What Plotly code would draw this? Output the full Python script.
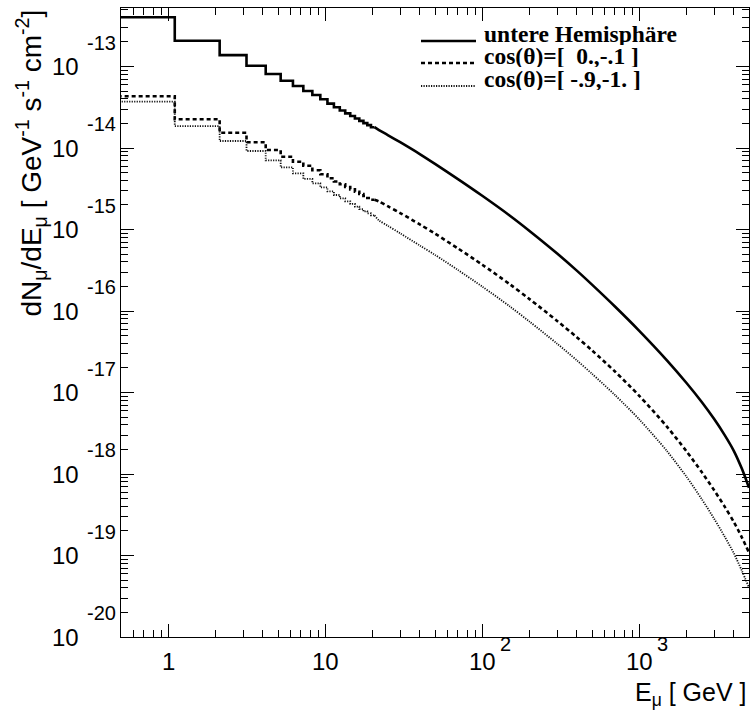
import plotly.graph_objects as go

# ---------------- data ----------------
bin_edges = [0.075, 1.1, 2.125, 3.15, 4.175, 5.2, 6.225, 7.25, 8.275, 9.3, 10.325,
             11.35, 12.375, 13.4, 14.425, 15.45, 16.475, 17.5, 18.525, 19.55, 20.575]

hemi_bins = [4.02e-13, 2.07e-13, 1.38e-13, 1.02e-13, 8.09e-14, 6.70e-14, 5.76e-14, 5.01e-14,
             4.47e-14, 3.96e-14, 3.50e-14, 3.16e-14, 2.89e-14, 2.66e-14, 2.47e-14, 2.30e-14,
             2.15e-14, 2.02e-14, 1.91e-14, 1.80e-14]
cos01_bins = [4.31e-14, 2.25e-14, 1.54e-14, 1.175e-14, 9.45e-15, 7.82e-15, 6.79e-15, 6.07e-15,
              5.33e-15, 4.76e-15, 4.25e-15, 3.88e-15, 3.59e-15, 3.32e-15, 3.11e-15, 2.91e-15,
              2.73e-15, 2.58e-15, 2.44e-15, 2.32e-15]
cos91_bins = [3.70e-14, 1.86e-14, 1.22e-14, 9.19e-15, 7.07e-15, 5.80e-15, 4.89e-15, 4.17e-15,
              3.69e-15, 3.28e-15, 2.93e-15, 2.65e-15, 2.41e-15, 2.22e-15, 2.06e-15, 1.91e-15,
              1.78e-15, 1.67e-15, 1.58e-15, 1.49e-15]

E_smooth = [22, 25, 30, 40, 50, 70, 100, 150, 200, 300, 400, 500, 700, 1000, 1500, 2000,
            2500, 3000, 3500, 4000, 4500, 5000]
hemi_smooth = [1.658e-14, 1.444e-14, 1.178e-14, 8.42e-15, 6.38e-15, 4.153e-15, 2.591e-15,
               1.477e-15, 9.61e-16, 5.076e-16, 3.131e-16, 2.108e-16, 1.136e-16, 5.716e-17,
               2.484e-17, 1.308e-17, 7.644e-18, 4.716e-18, 3.001e-18, 1.926e-18, 1.165e-18,
               6.77e-19]
cos01_smooth = [2.206e-15, 1.932e-15, 1.594e-15, 1.155e-15, 8.906e-16, 5.862e-16, 3.700e-16,
                2.126e-16, 1.400e-16, 7.558e-17, 4.77e-17, 3.286e-17, 1.810e-17, 9.11e-18,
                3.806e-18, 1.899e-18, 1.055e-18, 6.31e-19, 3.98e-19, 2.584e-19, 1.672e-19,
                1.085e-19]
cos91_smooth = [1.293e-15, 1.113e-15, 8.98e-16, 6.363e-16, 4.879e-16, 3.186e-16, 1.993e-16,
                1.136e-16, 7.41e-17, 3.970e-17, 2.484e-17, 1.696e-17, 9.32e-18, 4.676e-18,
                1.915e-18, 9.24e-19, 4.92e-19, 2.82e-19, 1.705e-19, 1.067e-19, 6.525e-20,
                4.037e-20]

series_names = ["untere Hemisphäre", "cos(θ)=[\u00a0 0.,-.1 ]", "cos(θ)=[ -.9,-1. ]"]

y_tick_exps = [-20, -19, -18, -17, -16, -15, -14, -13]
x_tick_labels = [(0, "1", ""), (1, "10", ""), (2, "10", "2"), (3, "10", "3")]

# ---------------- styles ----------------
styles = [dict(color="black", width=2.6, dash="solid"),
          dict(color="black", width=2.6, dash="4px,3px"),
          dict(color="#111", width=1.8, dash="1.2px,1.3px")]

FONT = "Liberation Sans, Arial, Helvetica, sans-serif"
SERIF = "Liberation Serif, Times New Roman, serif"

fig = go.Figure()
for bins, smooth, st in [(hemi_bins, hemi_smooth, styles[0]),
                         (cos01_bins, cos01_smooth, styles[1]),
                         (cos91_bins, cos91_smooth, styles[2])]:
    fig.add_trace(go.Scatter(x=bin_edges, y=bins + [bins[-1]], mode="lines",
                             line=dict(shape="hv", **st), showlegend=False,
                             hoverinfo="skip"))
    fig.add_trace(go.Scatter(x=[bin_edges[-1]] + E_smooth, y=[bins[-1]] + smooth,
                             mode="lines", line=dict(shape="spline", smoothing=0.8, **st),
                             showlegend=False, hoverinfo="skip"))

axis_common = dict(type="log", showline=True, linecolor="black", linewidth=1,
                   mirror="ticks", ticks="inside", tickcolor="black", tickwidth=1,
                   showgrid=False, zeroline=False, showticklabels=False,
                   dtick=1, tick0=0)

fig.update_xaxes(range=[-0.30103, 3.69897], ticklen=13,
                 minor=dict(ticks="inside", ticklen=7, dtick="D1",
                            tickcolor="black", showgrid=False), **axis_common)
fig.update_yaxes(range=[-20, -12.282], ticklen=13,
                 minor=dict(ticks="inside", ticklen=7, dtick="D1",
                            tickcolor="black", showgrid=False), **axis_common)

ann = []
# y tick labels: "10" + exponent
for e in y_tick_exps:
    ann.append(dict(xref="paper", yref="y", x=-40 / 628, y=e, text="10",
                    xanchor="right", yanchor="middle", showarrow=False,
                    font=dict(family=FONT, size=24, color="black")))
    ann.append(dict(xref="paper", yref="y", x=-3 / 628, y=e, text=str(e),
                    xanchor="right", yanchor="middle", yshift=24, showarrow=False,
                    font=dict(family=FONT, size=20, color="black")))
# x tick labels
for e, base, sup in x_tick_labels:
    ann.append(dict(xref="x", yref="paper", x=e, y=-24 / 629, text=base,
                    xanchor="center", yanchor="middle", showarrow=False,
                    font=dict(family=FONT, size=24, color="black")))
    if sup:
        ann.append(dict(xref="x", yref="paper", x=e, y=-24 / 629, text=sup,
                        xanchor="left", yanchor="middle", xshift=16, yshift=17,
                        showarrow=False, font=dict(family=FONT, size=20, color="black")))
# axis titles
ann.append(dict(xref="paper", yref="paper", x=1.0, y=-57 / 629,
                text="E<sub>μ</sub> [ GeV ]", xanchor="right", yanchor="middle",
                showarrow=False, font=dict(family=FONT, size=25, color="black")))
ann.append(dict(xref="paper", yref="paper", x=-90 / 628, y=1.0,
                text="dN<sub>μ</sub>/dE<sub>μ</sub> [ GeV<sup>-1</sup> s<sup>-1</sup> cm<sup>-2</sup>]",
                textangle=-90, xanchor="center", yanchor="top",
                showarrow=False, font=dict(family=FONT, size=28, color="black")))

# legend (drawn manually, ROOT style)
shapes = []
leg_rows = [41.0, 63.0, 86.0]
for name, st, py in zip(series_names, styles, leg_rows):
    yp = (637 - py) / 629
    shapes.append(dict(type="line", xref="paper", yref="paper",
                       x0=(421 - 121) / 628, x1=(476 - 121) / 628, y0=yp, y1=yp,
                       line=dict(color=st["color"], width=st["width"], dash=st["dash"])))
    ann.append(dict(xref="paper", yref="paper", x=(482 - 121) / 628, y=yp,
                    text="<b>" + name + "</b>", xanchor="left", yanchor="middle",
                    yshift=7, height=22, showarrow=False,
                    font=dict(family=SERIF, size=23.5, color="black")))

fig.update_layout(width=751, height=715, margin=dict(l=121, r=2, t=8, b=78),
                  paper_bgcolor="white", plot_bgcolor="white",
                  annotations=ann, shapes=shapes, showlegend=False)

fig.write_html("out.html")
